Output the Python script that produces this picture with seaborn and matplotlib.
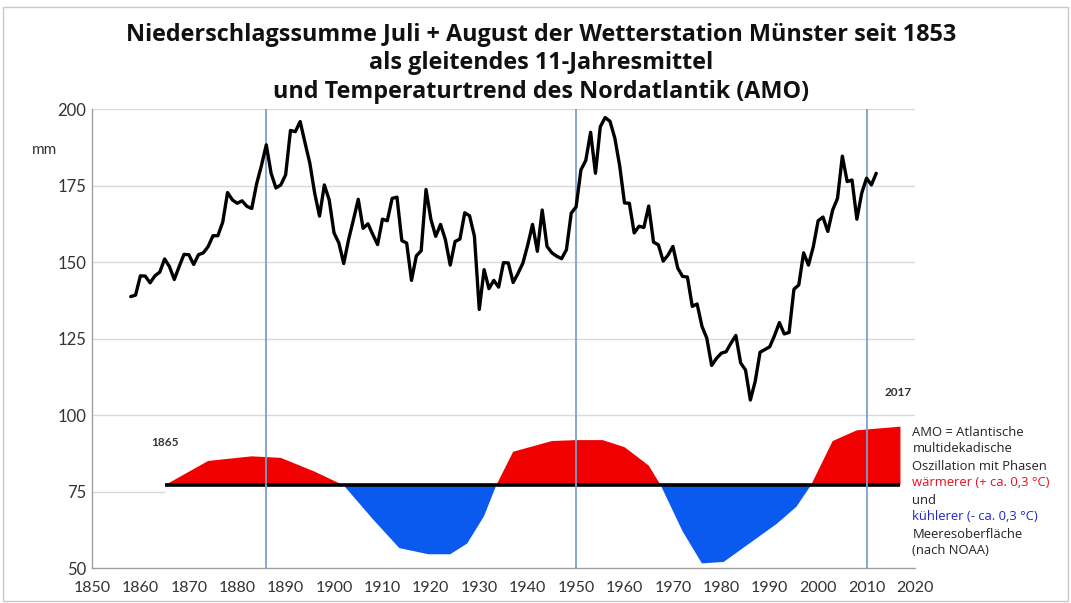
import matplotlib
matplotlib.use("Agg")
import matplotlib.pyplot as plt
import seaborn as sns
import numpy as np
from matplotlib.patches import Rectangle

# Niederschlag (11-Jahresmittel), mm, Jahre 1858-2012
years = list(range(1858, 2013))
rain = [
    138.7, 139.2, 145.5, 145.4, 143.2, 145.5, 146.7, 151.0, 148.5, 144.3,  # 1858-1867
    148.5, 152.5, 152.4, 149.2, 152.4, 153.0, 155.1, 158.6, 158.6, 163.0,  # 1868-1877
    172.7, 170.3, 169.2, 170.0, 168.2, 167.5, 175.5, 181.5, 188.3, 179.0,  # 1878-1887
    174.2, 175.2, 178.5, 193.0, 192.6, 195.9, 189.0, 182.3, 172.5, 165.0,  # 1888-1897
    175.2, 170.3, 159.5, 156.2, 149.5, 157.3, 163.8, 170.5, 161.0, 162.5,  # 1898-1907
    159.0, 155.7, 164.0, 163.5, 170.8, 171.2, 157.0, 156.2, 144.0, 152.0,  # 1908-1917
    153.7, 173.7, 164.0, 158.4, 162.3, 157.3, 149.0, 156.7, 157.5, 166.1,  # 1918-1927
    165.1, 158.4, 134.5, 147.5, 141.3, 144.0, 141.8, 149.8, 149.7, 143.3,  # 1928-1937
    146.3, 149.6, 155.5, 162.3, 153.5, 167.0, 155.1, 153.0, 151.9, 151.1,  # 1938-1947
    154.0, 166.0, 168.0, 180.1, 183.2, 192.4, 179.0, 194.2, 197.2, 196.0,  # 1948-1957
    190.5, 181.5, 169.3, 169.2, 159.5, 161.7, 161.3, 168.3, 156.5, 155.6,  # 1958-1967
    150.3, 152.3, 155.1, 148.0, 145.3, 145.1, 135.5, 136.3, 129.0, 125.1,  # 1968-1977
    116.2, 118.5, 120.2, 120.7, 123.5, 126.0, 117.0, 114.7, 104.9, 111.0,  # 1978-1987
    120.5, 121.4, 122.3, 126.0, 130.2, 126.5, 127.0, 141.1, 142.5, 153.0,  # 1988-1997
    149.0, 155.0, 163.5, 164.7, 160.0, 167.0, 170.8, 184.6, 176.3, 176.8,  # 1998-2007
    164.0, 172.5, 177.4, 175.2, 179.0,                                     # 2008-2012
]

# AMO-Phasen (schematisch, auf der mm-Skala um die Grundlinie 77)
amo_base = 77
amo_years = [1865, 1874, 1883, 1889, 1896, 1902, 1908, 1913.5, 1919.5, 1924,
             1927.5, 1931, 1933.5, 1937, 1945, 1950, 1955.5, 1960, 1965, 1967.5,
             1972, 1976, 1980.5, 1991.5, 1995.5, 1998.5, 2003, 2008, 2017]
amo_values = [77, 85, 86.5, 86, 81.5, 77, 66, 56.5, 54.5, 54.5,
              58, 67, 77, 88, 91.5, 91.8, 91.8, 89.5, 83.5, 77,
              62, 51.5, 52, 64.5, 70, 77, 91.5, 95, 96.2]

phase_lines = [1886, 1950, 2010]
x_ticks = list(range(1850, 2021, 10))
y_ticks = [50, 75, 100, 125, 150, 175, 200]

title = ("Niederschlagssumme Juli + August der Wetterstation Münster seit 1853\n"
         "als gleitendes 11-Jahresmittel\n"
         "und Temperaturtrend des Nordatlantik (AMO)")

legend_lines = [
    ("AMO = Atlantische", "#222222"),
    ("multidekadische", "#222222"),
    ("Oszillation mit Phasen", "#222222"),
    ("wärmerer (+ ca. 0,3 °C)", "#e8101e"),
    ("und", "#222222"),
    ("kühlerer (- ca. 0,3 °C)", "#2424c8"),
    ("Meeresoberfläche", "#222222"),
    ("(nach NOAA)", "#222222"),
]

sns.set_style("white")
plt.rcParams["font.family"] = ["Lato", "DejaVu Sans"]

fig = plt.figure(figsize=(10.71, 6.03), dpi=100)
ax = fig.add_axes([0.0859, 0.058, 0.7684, 0.7612])

# Gitter
for v in y_ticks[2:]:
    ax.axhline(v, color="#d9d9d9", lw=1, zorder=0)
ax.hlines(75, 1850, 1865, color="#d9d9d9", lw=1, zorder=0)

# AMO Flächen
ax_years = np.array(amo_years)
ax_vals = np.array(amo_values)
ax.fill_between(ax_years, amo_base, ax_vals, where=ax_vals >= amo_base,
                interpolate=True, color="#f00000", lw=0, zorder=1)
ax.fill_between(ax_years, amo_base, ax_vals, where=ax_vals <= amo_base,
                interpolate=True, color="#0a5af0", lw=0, zorder=1)
ax.hlines(amo_base, amo_years[0], amo_years[-1], color="black", lw=2.6, zorder=2)

# Phasenlinien
for yr in phase_lines:
    ax.axvline(yr, color="#7f9fd0", lw=1.3, zorder=2)

sns.lineplot(x=years, y=rain, color="black", lw=2.4, ax=ax, zorder=3)

ax.set_xlim(1850, 2020)
ax.set_ylim(50, 200)
ax.set_xticks(x_ticks)
ax.set_yticks(y_ticks)
ax.set_xlabel("")
ax.set_ylabel("")
ax.tick_params(axis="x", labelsize=11.5, colors="#333333", length=4,
               width=1, direction="out", pad=5, color="#a0a0a0")
ax.tick_params(axis="y", labelsize=12, colors="#333333", length=0, pad=4)
for s in ["top", "right"]:
    ax.spines[s].set_visible(False)
for s in ["left", "bottom"]:
    ax.spines[s].set_color("#a0a0a0")
    ax.spines[s].set_linewidth(1)

ax.text(1865, 91, "1865", ha="center", va="center", fontsize=8.5,
        color="#333333", fontweight="bold")
ax.text(2016.5, 107.5, "2017", ha="center", va="center", fontsize=8.5,
        color="#333333", fontweight="bold")

fig.text(0.03, 0.751, "mm", fontsize=11, color="#333333", va="center")

fig.text(0.505, 0.962, title, ha="center", va="top", fontsize=16.8,
         fontweight="bold", color="#111111", linespacing=1.25,
         family=["Open Sans", "DejaVu Sans"])

y0 = 1 - 432 / 603
for i, (txt, col) in enumerate(legend_lines):
    fig.text(0.852, y0 - i * 17 / 603, txt, fontsize=9.4, color=col, va="center",
             family=["Open Sans", "DejaVu Sans"])

fig.patches.append(Rectangle((0.003, 0.004), 0.994, 0.984, transform=fig.transFigure,
                             fill=False, edgecolor="#c8c8c8", lw=1))

fig.savefig("out.png", dpi=100)
print("done")
